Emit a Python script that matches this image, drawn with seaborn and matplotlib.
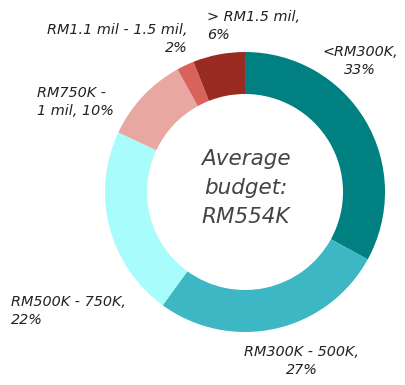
import matplotlib
matplotlib.use("Agg")
import matplotlib.pyplot as plt
import seaborn as sns

categories = ["<RM300K", "RM300K - 500K", "RM500K - 750K", "RM750K -\n1 mil",
              "RM1.1 mil - 1.5 mil", "> RM1.5 mil"]
shares = [33, 27, 22, 10, 2, 6]
colors = ["#008080", "#3db7c4", "#a8fcfc", "#e8a7a1", "#d9625a", "#992b22"]
center_text = "Average\nbudget:\nRM554K"

sns.set_theme(style="white")
plt.rcParams["font.family"] = ["DejaVu Sans"]

W, H = 406, 385
fig = plt.figure(figsize=(W / 100, H / 100), dpi=100)
ax = fig.add_axes([0, 0, 1, 1])


def up(y):
    # convert a top-down pixel row into the axes' bottom-up y coordinate
    return H - y


cx, cy, r = 245, 192, 140
ax.pie(shares, colors=colors, startangle=90, counterclock=False,
       center=(cx, up(cy)), radius=r, frame=True,
       wedgeprops=dict(width=42, linewidth=0))
ax.set_xlim(0, W)
ax.set_ylim(0, H)
ax.set_aspect("equal")
ax.axis("off")

label_style = dict(fontsize=10.4, style="italic", color="#222222", linespacing=1.45)
ax.text(360, up(61), f"{categories[0]},\n{shares[0]}%", ha="center", va="center", **label_style)
ax.text(302, up(361), f"{categories[1]},\n{shares[1]}%", ha="center", va="center", **label_style)
ax.text(11, up(311), f"{categories[2]},\n{shares[2]}%", ha="left", va="center", **label_style)
ax.text(37, up(102), f"{categories[3]}, {shares[3]}%", ha="left", va="center", **label_style)
ax.text(188, up(39), f"{categories[4]},\n{shares[4]}%", ha="right", va="center",
        multialignment="right", **label_style)
ax.text(207, up(26), f"{categories[5]},\n{shares[5]}%", ha="left", va="center", **label_style)

ax.text(cx + 1, up(cy - 4), center_text, ha="center", va="center", fontsize=15.5,
        style="italic", color="#444444", linespacing=1.55)

fig.savefig("out.png", dpi=100)
